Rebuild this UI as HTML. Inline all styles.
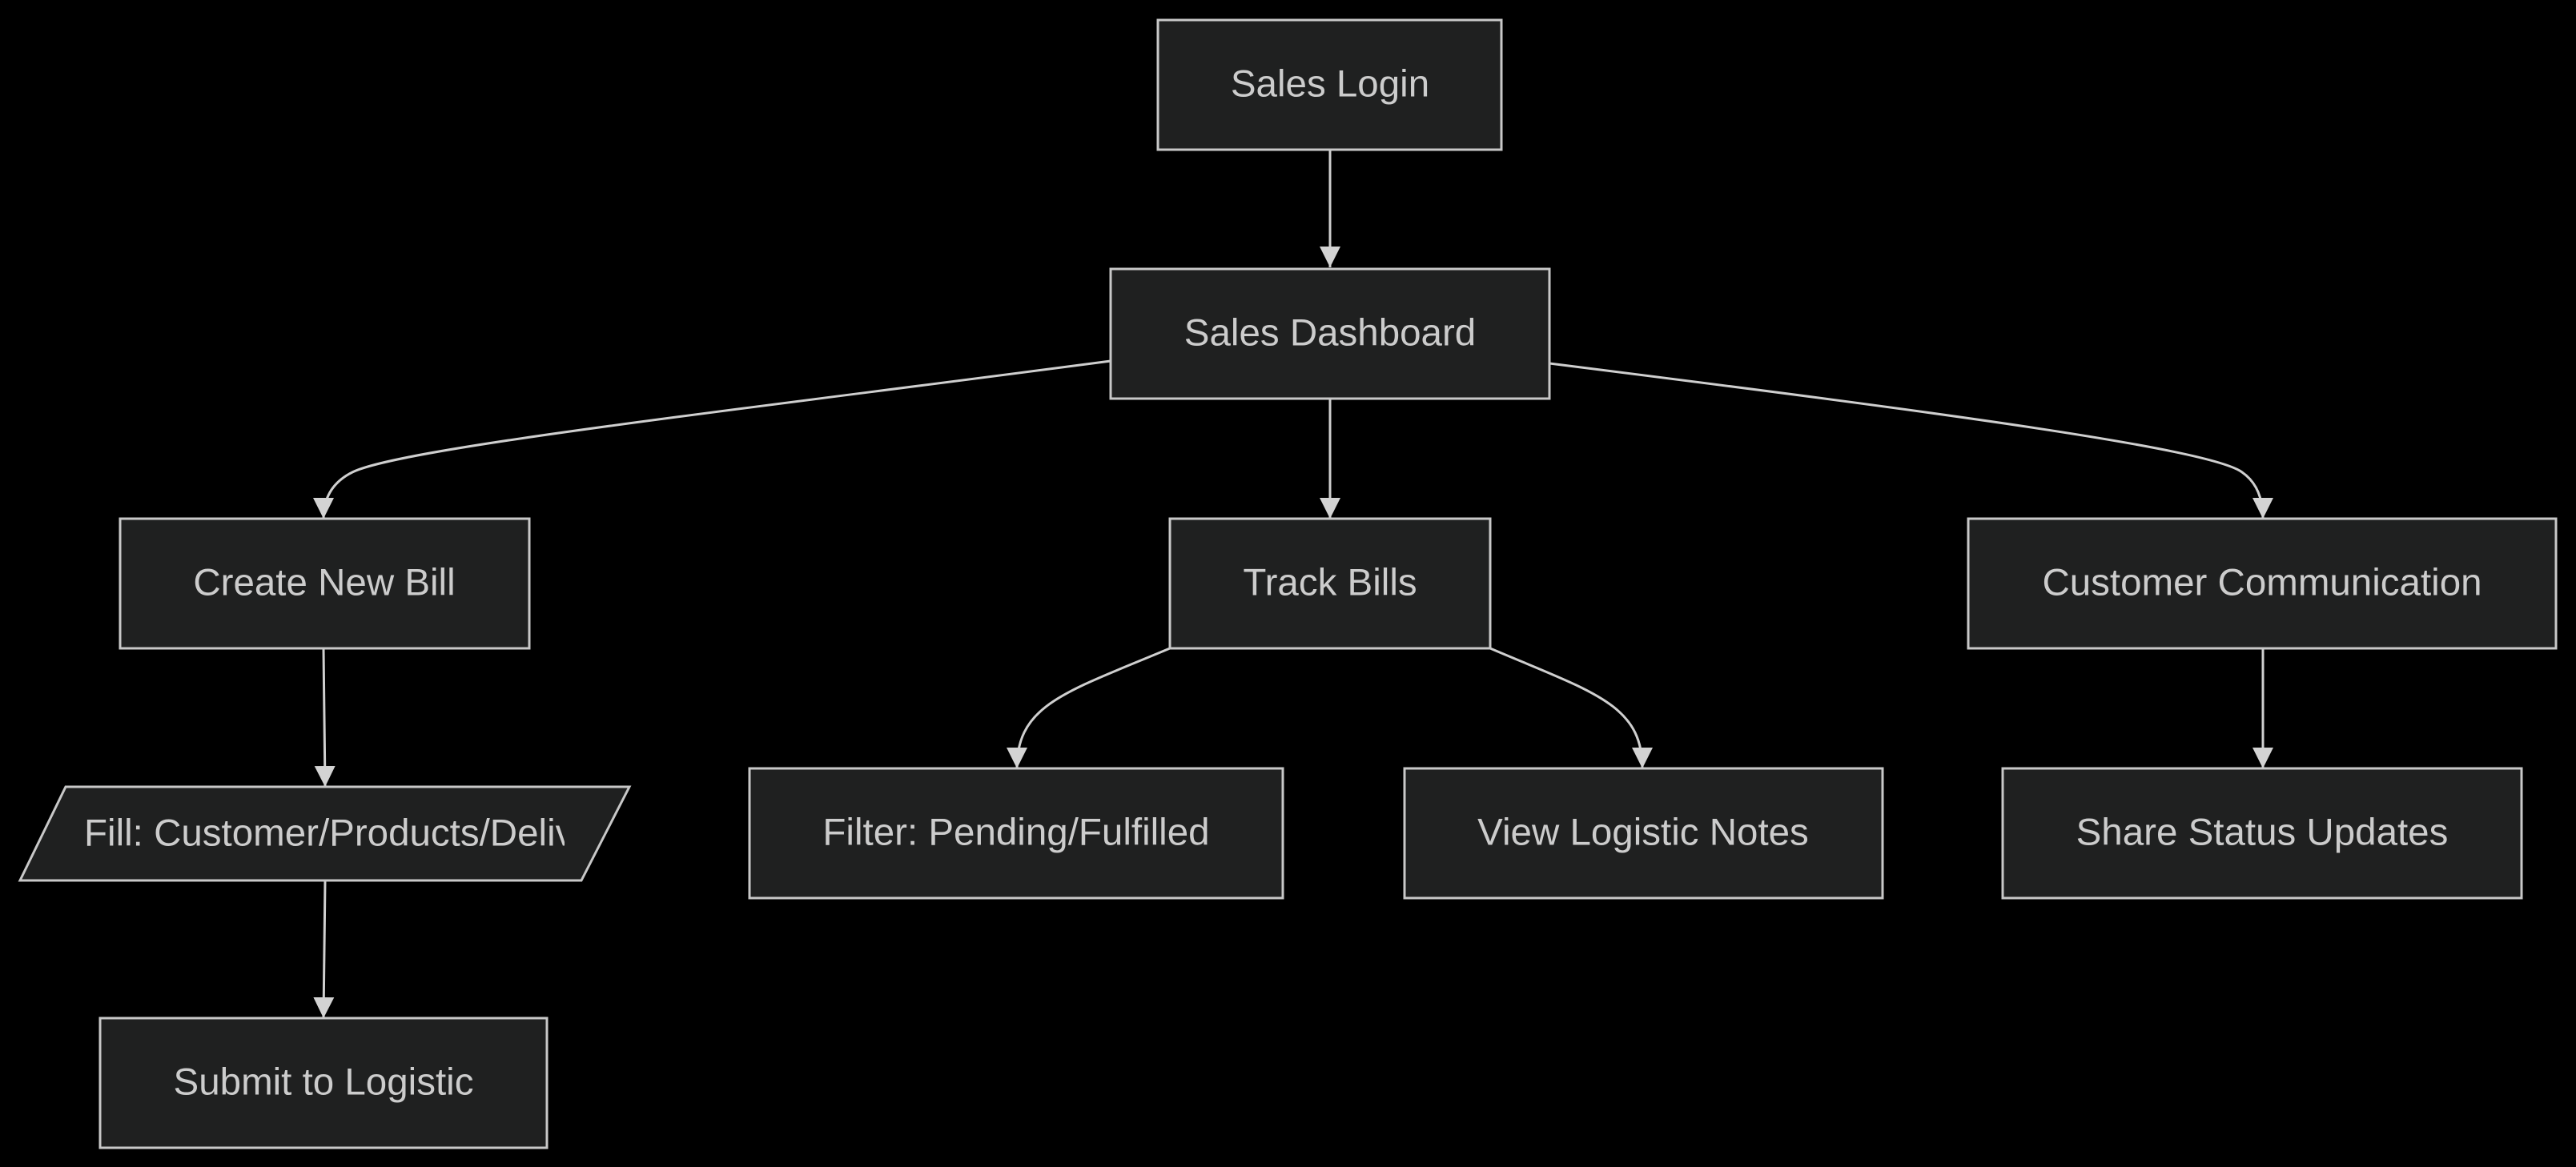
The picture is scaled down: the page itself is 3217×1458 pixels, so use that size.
<!DOCTYPE html>
<html><head><meta charset="utf-8"><style>
html,body{margin:0;padding:0;background:#000;}
svg{display:block}
text{font-family:"Liberation Sans",Arial,sans-serif;font-size:47.5px;fill:#ccc;text-anchor:middle;dominant-baseline:central}
.n{fill:#1f2020;stroke:#c8c8c8;stroke-width:3}
.e{fill:none;stroke:#cfcfcf;stroke-width:3}
</style></head><body>
<svg width="3217" height="1458" viewBox="0 0 3217 1458" xmlns="http://www.w3.org/2000/svg">
<defs>
<marker id="ar" viewBox="0 0 12 12" refX="12" refY="6" markerWidth="26" markerHeight="26" markerUnits="userSpaceOnUse" orient="auto"><path d="M0,0 L12,6 L0,12 z" fill="#d3d3d3"/></marker></defs>
<g class="e">
<path d="M1661,187 L1661,334" marker-end="url(#ar)"/>
<path d="M1387,451 C900,515 500,560 440,590 Q404,608 404,648" marker-end="url(#ar)"/>
<path d="M1661,498 L1661,648" marker-end="url(#ar)"/>
<path d="M1935,454 C2420,515 2760,560 2800,590 Q2826,608 2826,648" marker-end="url(#ar)"/>
<path d="M1461,810 C1330,865 1270,880 1270,960" marker-end="url(#ar)"/>
<path d="M1861,810 C1990,865 2051,880 2051,960" marker-end="url(#ar)"/>
<path d="M2826,810 L2826,960" marker-end="url(#ar)"/>
<path d="M404,810 L406,983" marker-end="url(#ar)"/>
<path d="M406,1100 L404,1272" marker-end="url(#ar)"/>
</g>
<rect class="n" x="1446" y="25" width="429" height="162"/><text x="1661" y="105">Sales Login</text>
<rect class="n" x="1387" y="336" width="548" height="162"/><text x="1661" y="416">Sales Dashboard</text>
<rect class="n" x="150" y="648" width="511" height="162"/><text x="405" y="728">Create New Bill</text>
<rect class="n" x="1461" y="648" width="400" height="162"/><text x="1661" y="728">Track Bills</text>
<rect class="n" x="2458" y="648" width="734" height="162"/><text x="2825" y="728">Customer Communication</text>
<polygon class="n" points="82,983 786,983 726,1100 25,1100"/>
<svg x="105" y="983" width="600" height="117"><text x="0" y="58" style="text-anchor:start">Fill: Customer/Products/Delivery</text></svg>
<rect class="n" x="936" y="960" width="666" height="162"/><text x="1269" y="1040">Filter: Pending/Fulfilled</text>
<rect class="n" x="1754" y="960" width="597" height="162"/><text x="2052" y="1040">View Logistic Notes</text>
<rect class="n" x="2501" y="960" width="648" height="162"/><text x="2825" y="1040">Share Status Updates</text>
<rect class="n" x="125" y="1272" width="558" height="162"/><text x="404" y="1352">Submit to Logistic</text>
</svg>
</body></html>
